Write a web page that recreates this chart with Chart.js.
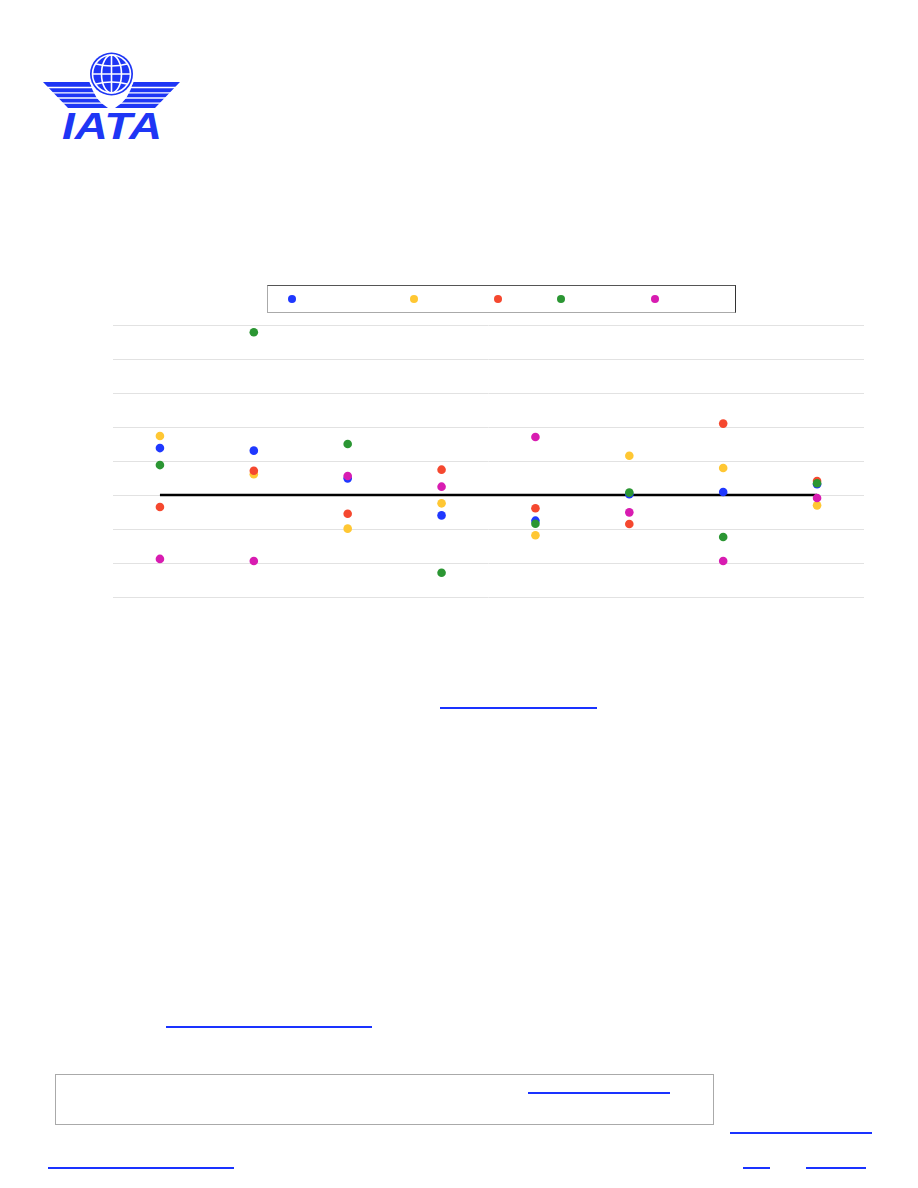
<!DOCTYPE html>
<html>
<head>
<meta charset="utf-8">
<script src="https://cdn.jsdelivr.net/npm/chart.js@4.4.1/dist/chart.umd.min.js"></script>
<style>
  html, body { margin:0; padding:0; background:#fff; font-family:"Liberation Sans", Arial, sans-serif; }
  body { width:918px; height:1188px; position:relative; overflow:hidden; }
  .abs { position:absolute; }
  .link { position:absolute; height:1px; border-bottom:2px solid #1a33ff; color:#fff; font-size:1px; overflow:hidden; }
  #legend { position:absolute; left:267px; top:285px; width:467px; height:26px;
            border-top:1px solid #555; border-right:1px solid #333; border-left:1px solid #aaa; border-bottom:1px solid #aaa; }
  .lg { position:absolute; top:9px; height:10px; }
  .lg .dot { position:absolute; left:0; top:0; width:8px; height:8px; border-radius:50%; }
  .lg .tx { position:absolute; left:12px; top:-3px; color:#fff; font-size:11px; white-space:nowrap; }
  #chartBox { position:absolute; left:0; top:315px; width:918px; height:298px; }
  #box { position:absolute; left:55px; top:1074px; width:657px; height:49px; border:1px solid #aaa; }
</style>
</head>
<body>

<svg class="abs" style="left:0;top:0" width="200" height="150" viewBox="0 0 200 150">
  <defs>
    <g id="wing">
      <path d="M43,82 L90,82 Q94,100 108,108 L68,108 Z" fill="#1e36f5"/>
      <g stroke="#fff" stroke-width="1.3">
        <line x1="40" y1="87.5" x2="112" y2="87.5"/>
        <line x1="40" y1="92.8" x2="112" y2="92.8"/>
        <line x1="40" y1="98" x2="112" y2="98"/>
        <line x1="40" y1="103.2" x2="112" y2="103.2"/>
      </g>
    </g>
  </defs>
  <use href="#wing"/>
  <use href="#wing" transform="translate(223,0) scale(-1,1)"/>
  <circle cx="111.5" cy="74" r="23.5" fill="#fff"/>
  <circle cx="111.5" cy="74" r="21.5" fill="#1e36f5"/>
  <g fill="none" stroke="#fff" stroke-width="1.6">
    <circle cx="111.5" cy="74" r="19"/>
    <line x1="111.5" y1="55" x2="111.5" y2="93"/>
    <ellipse cx="111.5" cy="74" rx="10" ry="19"/>
    <line x1="93" y1="74" x2="130" y2="74"/>
    <path d="M96,64 Q111.5,68 127,64"/>
    <path d="M96,84 Q111.5,80 127,84"/>
  </g>
  <text x="62" y="138.5" font-family="Liberation Sans, Arial, sans-serif" font-weight="bold" font-style="italic" font-size="37" fill="#1e36f5" textLength="100" lengthAdjust="spacingAndGlyphs">IATA</text>
</svg>

<div id="legend"></div>

<div id="chartBox"><canvas id="c"></canvas></div>

<div class="link" style="left:440px;top:706px;width:157px;">More analysis</div>
<div class="link" style="left:166px;top:1025px;width:206px;">www.iata.org/economics</div>
<div id="box"></div>
<div class="link" style="left:528px;top:1091px;width:142px;">Subscribe here</div>
<div class="link" style="left:730px;top:1131px;width:142px;">economics@iata.org</div>
<div class="link" style="left:48px;top:1166px;width:186px;">Terms and Conditions</div>
<div class="link" style="left:743px;top:1166px;width:27px;">RSS</div>
<div class="link" style="left:806px;top:1166px;width:60px;">Twitter</div>

<script>
// ---- data ----
const categories = ["Australia", "Brazil", "China", "India", "Japan", "Russia", "US", "Total"];
const seriesNames = ["Domestic RPKs", "ASKs", "PLF", "Passengers", "Yields"];
const seriesColors = ["#1f38ff", "#ffc733", "#f5482f", "#2b9633", "#d81cb1"];
const blueValues    = [2.76, 2.61, 0.98, -1.20, -1.51, 0.04, 0.18, 0.63];
const yellowValues  = [3.47, 1.22, -1.98, -0.49, -2.37, 2.31, 1.59, -0.61];
const redValues     = [-0.71, 1.43, -1.10, 1.49, -0.78, -1.71, 4.20, 0.82];
const greenValues   = [1.76, 9.57, 3.00, -4.57, -1.69, 0.14, -2.47, 0.69];
const magentaValues = [-3.76, -3.88, 1.12, 0.49, 3.41, -1.02, -3.88, -0.18];
const zeroLine      = [0, 0, 0, 0, 0, 0, 0, 0];
const yTicks = { min: -6, max: 10, step: 2 };

// ---- legend (HTML) ----
const legendX = [24, 146, 230, 293, 387];
const legend = document.getElementById('legend');
seriesNames.forEach((n, i) => {
  const d = document.createElement('div');
  d.className = 'lg';
  d.style.left = (legendX[i] - 4) + 'px';
  d.innerHTML = '<span class="dot" style="background:' + seriesColors[i] + '"></span><span class="tx">' + n + '</span>';
  legend.appendChild(d);
});

// ---- chart ----
const allSeries = [blueValues, yellowValues, redValues, greenValues, magentaValues];
const datasets = allSeries.map((vals, i) => ({
  type: 'line',
  label: seriesNames[i],
  data: vals,
  showLine: false,
  pointRadius: 4.3,
  pointHoverRadius: 4.3,
  pointBorderWidth: 0,
  pointBackgroundColor: seriesColors[i],
  borderColor: seriesColors[i],
  backgroundColor: seriesColors[i],
  order: 5 - i
}));
datasets.push({
  type: 'line',
  label: 'zero',
  data: zeroLine,
  borderColor: '#000',
  borderWidth: 2.5,
  pointRadius: 0,
  order: 10
});

new Chart(document.getElementById('c'), {
  type: 'line',
  data: { labels: categories, datasets },
  options: {
    responsive: true,
    maintainAspectRatio: false,
    animation: false,
    clip: false,
    layout: { padding: { left: 113, right: 54, top: 10, bottom: 8 } },
    plugins: { legend: { display: false }, tooltip: { enabled: false } },
    scales: {
      x: {
        offset: true,
        grid: { display: false },
        border: { display: false },
        ticks: { display: false }
      },
      y: {
        min: yTicks.min, max: yTicks.max,
        ticks: { display: false, stepSize: yTicks.step },
        grid: { color: '#e2e2e2', lineWidth: 1, drawTicks: false },
        border: { display: false }
      }
    }
  }
});
</script>
</body>
</html>
